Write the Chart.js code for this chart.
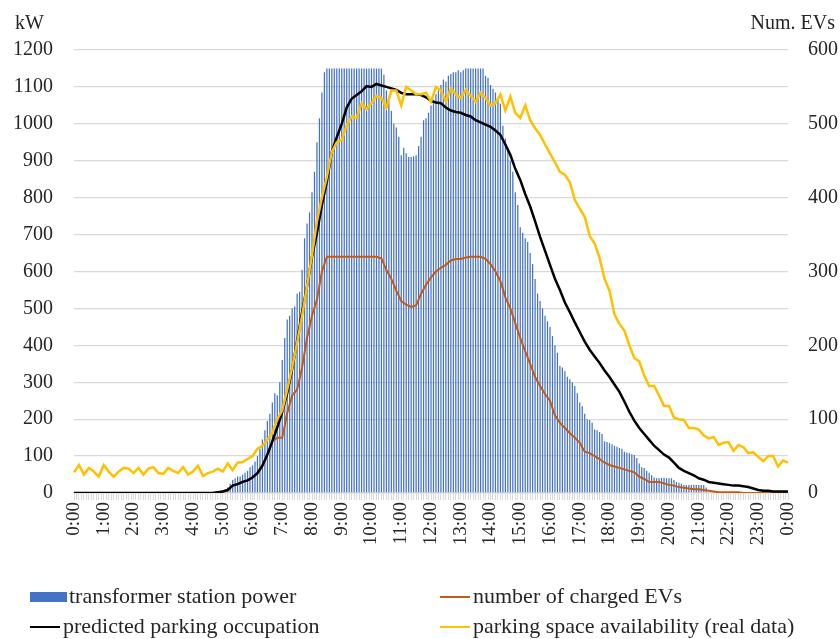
<!DOCTYPE html>
<html>
<head>
<meta charset="utf-8">
<script src="https://cdn.jsdelivr.net/npm/chart.js@4.4.1/dist/chart.umd.min.js"></script>
<style>
  body { margin: 0; background: #fff; }
  #wrap { position: relative; width: 840px; height: 639px; font-family: "Liberation Serif", serif; color: #262626; }
  canvas { position: absolute; left: 0; top: 0; }
  .title { position: absolute; top: 10px; font-size: 20px; line-height: 24px; white-space: nowrap; }
  .leg { position: absolute; font-size: 22px; line-height: 24px; white-space: nowrap; }
  .sw { position: absolute; }
</style>
</head>
<body>
<div id="wrap">
  <canvas id="chart" width="840" height="639"></canvas>
  <div class="title" style="left:15px">kW</div>
  <div class="title" style="right:5px">Num. EVs</div>
  <div id="legend"></div>
</div>
<script>
// transformer station power, kW, every 5 min from 0:00 to 24:00 (289 values, one row per hour)
const power = [
  0,0,0,0,0,0,0,0,0,0,0,0,
  0,0,0,0,0,0,0,0,0,0,0,0,
  0,0,0,0,0,0,0,0,0,0,0,0,
  0,0,0,0,0,0,0,0,0,0,0,0,
  0,0,0,0,0,0,0,0,0,0,0,0,
  0,5,15,25,35,40,45,45,50,55,60,70,
  75,85,100,120,145,170,195,215,245,270,265,300,
  360,420,470,480,500,505,540,545,605,690,730,760,
  815,870,950,1015,1085,1140,1150,1150,1150,1150,1150,1150,
  1150,1150,1150,1150,1150,1150,1150,1150,1150,1150,1150,1150,
  1150,1150,1150,1150,1150,1133,1090,1060,1035,1000,990,965,
  915,935,920,910,910,912,915,940,965,1010,1015,1030,
  1050,1065,1080,1090,1105,1120,1115,1130,1135,1140,1140,1145,
  1140,1145,1150,1150,1150,1150,1150,1150,1150,1150,1130,1125,
  1105,1095,1085,1070,1055,995,960,935,900,870,815,780,
  720,705,690,680,650,620,580,540,520,500,480,465,
  450,425,400,380,345,340,330,315,308,300,290,270,
  245,235,215,200,198,190,172,170,165,160,140,138,
  135,132,128,125,122,120,112,110,108,105,103,95,
  80,70,68,60,55,48,42,40,40,41,41,40,
  40,40,35,30,28,25,22,22,22,22,22,22,
  22,22,22,15,0,0,0,0,0,0,0,0,
  0,0,0,0,0,0,0,0,0,0,0,0,
  0,0,0,0,0,0,0,0,0,0,0,0,
  0
];

// EV counts, every 10 min from 0:00 to 24:00 (145 values, one row per hour)
const chargedEVs = [
  0,0,0,0,0,0, 0,0,0,0,0,0, 0,0,0,0,0,0, 0,0,0,0,0,0,
  0,0,0,0,0,1,
  2,4,10,12,15,17,
  21,27,37,52,70,75,
  75,108,132,140,170,210,
  240,262,300,320,320,320,
  320,320,320,320,320,320,
  320,320,318,302,290,274,
  260,255,252,254,270,282,
  292,300,305,309,315,317,
  317,319,320,320,320,317,
  310,300,287,265,250,230,
  210,192,175,157,145,134,
  125,105,95,88,81,75,
  68,56,54,50,46,41,
  38,36,34,32,30,28,
  22,19,15,15,15,13,
  11,10,8,7,6,5,
  5,4,3,2,1,1,
  1,1,1,0,0,0,
  0,0,0,0,0,0,
  0
];

const predictedOccupation = [
  0,0,0,0,0,0, 0,0,0,0,0,0, 0,0,0,0,0,0, 0,0,0,0,0,0,
  0,0,0,0,0,1,
  2,4,10,12,15,17,
  21,27,37,52,70,89,
  110,135,168,206,245,280,
  320,352,390,422,462,482,
  500,522,534,539,544,551,
  550,554,552,550,548,546,
  542,540,540,540,539,536,
  531,529,528,522,518,516,
  515,512,510,505,502,499,
  496,491,485,472,458,439,
  424,405,388,368,347,328,
  309,290,275,258,245,231,
  218,205,194,185,176,166,
  157,147,137,124,110,98,
  88,80,72,64,58,52,
  48,41,34,30,27,24,
  20,18,15,14,13,12,
  11,10,10,9,8,6,
  4,3,3,2,2,2,
  2
];

const parkingReal = [
  28,38,25,34,29,22,
  38,29,22,29,34,33,
  27,34,25,33,35,27,
  26,34,30,27,35,25,
  29,37,23,27,29,33,
  29,40,31,41,42,46,
  50,60,64,72,82,100,
  112,140,170,204,240,280,
  322,368,400,428,462,475,
  478,498,510,508,528,520,
  528,538,535,522,545,545,
  525,550,545,540,540,542,
  530,550,545,530,548,540,
  535,546,538,530,542,535,
  525,528,540,518,537,515,
  508,525,505,494,485,472,
  460,448,435,431,421,397,
  385,374,348,338,318,290,
  274,242,229,220,200,183,
  178,159,145,145,132,118,
  118,102,100,99,88,88,
  86,78,74,76,65,68,
  69,57,65,62,54,55,
  49,43,50,50,36,44,
  41
];

// 5-minute category labels 0:00 ... 0:00
const labels = [];
for (let i = 0; i < power.length; i++) {
  const m = i * 5;
  labels.push((Math.floor(m / 60) % 24) + ':' + String(m % 60).padStart(2, '0'));
}

// 10-minute series placed on the 5-minute axis
const on5min = arr => labels.map((_, i) => (i % 2 ? null : arr[i / 2]));

const FONT = '"Liberation Serif", serif';
const TXT = '#262626';
const GRID = '#d9d9d9';

const datasets = [
  {
    type: 'bar',
    label: 'transformer station power',
    data: power,
    yAxisID: 'y',
    backgroundColor: '#4472C4',
    barPercentage: 0.5,
    categoryPercentage: 1,
    order: 4,
  },
  {
    type: 'line',
    label: 'number of charged EVs',
    data: on5min(chargedEVs),
    yAxisID: 'y1',
    borderColor: '#C55A11',
    borderWidth: 2,
    pointRadius: 0,
    spanGaps: true,
    order: 3,
  },
  {
    type: 'line',
    label: 'predicted parking occupation',
    data: on5min(predictedOccupation),
    yAxisID: 'y1',
    borderColor: '#000000',
    borderWidth: 2.5,
    pointRadius: 0,
    spanGaps: true,
    order: 2,
  },
  {
    type: 'line',
    label: 'parking space availability (real data)',
    data: on5min(parkingReal),
    yAxisID: 'y1',
    borderColor: '#FFC000',
    borderWidth: 2.5,
    pointRadius: 0,
    spanGaps: true,
    order: 1,
  },
];

const chart = new Chart(document.getElementById('chart'), {
  type: 'bar',
  data: { labels, datasets },
  options: {
    responsive: false,
    animation: false,
    layout: { padding: { top: 50, left: 0, right: 0, bottom: 0 } },
    plugins: { legend: { display: false }, tooltip: { enabled: false } },
    scales: {
      x: {
        offset: false,
        grid: { offset: false, drawOnChartArea: false, drawTicks: true, tickLength: 7, color: GRID },
        border: { color: GRID, width: 1.5 },
        ticks: {
          autoSkip: false,
          maxRotation: 90,
          minRotation: 90,
          padding: 2,
          color: TXT,
          font: { family: FONT, size: 19 },
          callback: (v, i) => (i % 12 === 0 ? labels[i] : ''),
        },
        afterFit: s => { s.height = 146; },
      },
      y: {
        position: 'left',
        min: 0,
        max: 1200,
        ticks: { stepSize: 100, padding: 21, color: TXT, font: { family: FONT, size: 20 }, callback: v => String(v) },
        grid: { color: GRID, lineWidth: 1.3, drawTicks: false },
        border: { display: false },
        afterFit: s => { s.width = 74; },
      },
      y1: {
        position: 'right',
        min: 0,
        max: 600,
        ticks: { stepSize: 100, padding: 20, color: TXT, font: { family: FONT, size: 20 }, callback: v => String(v) },
        grid: { drawOnChartArea: false, drawTicks: false },
        border: { display: false },
        afterFit: s => { s.width = 52; },
      },
    },
  },
});

// two-column legend under the chart
const legendPos = [
  { x: 30, y: 597 }, // transformer
  { x: 440, y: 597 }, // charged EVs
  { x: 30, y: 627 }, // predicted
  { x: 440, y: 627 }, // real data
];
const legend = document.getElementById('legend');
datasets.forEach((ds, i) => {
  const p = legendPos[i];
  const sw = document.createElement('div');
  sw.className = 'sw';
  if (ds.type === 'bar') {
    Object.assign(sw.style, { left: p.x + 'px', top: (p.y - 5) + 'px', width: '37px', height: '10px', background: ds.backgroundColor });
  } else {
    const w = ds.borderWidth;
    Object.assign(sw.style, { left: p.x + 'px', top: (p.y - w / 2) + 'px', width: '30px', height: w + 'px', background: ds.borderColor });
  }
  legend.appendChild(sw);
  const t = document.createElement('div');
  t.className = 'leg';
  t.textContent = ds.label;
  Object.assign(t.style, { left: (p.x + (ds.type === 'bar' ? 39 : 33)) + 'px', top: (p.y - 13) + 'px' });
  legend.appendChild(t);
});
</script>
</body>
</html>
